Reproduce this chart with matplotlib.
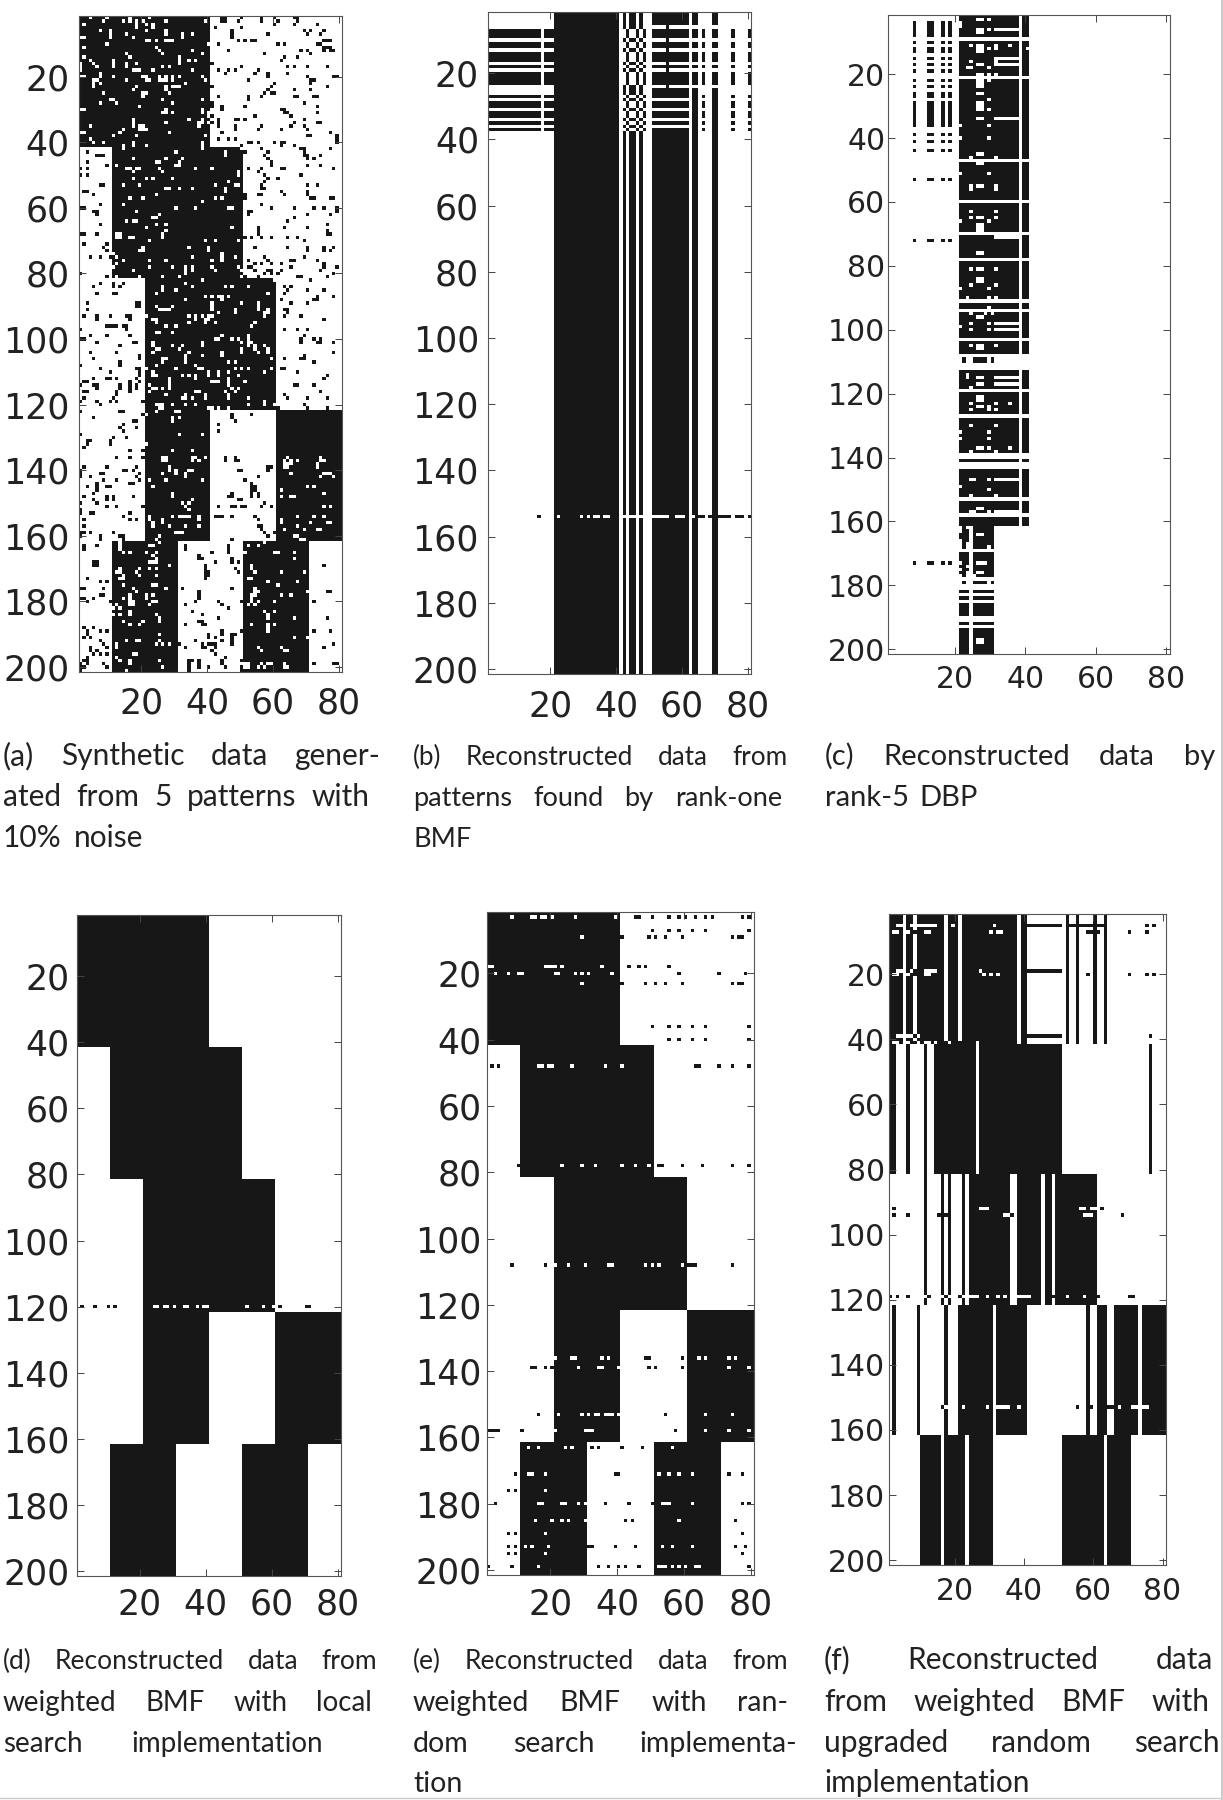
import numpy as np
import matplotlib
matplotlib.use('Agg')
import matplotlib.pyplot as plt
from matplotlib.colors import ListedColormap
from matplotlib.lines import Line2D

plt.rcParams['font.family'] = 'DejaVu Sans'

xtick_vals = [20, 40, 60, 80]
ytick_vals = [20, 40, 60, 80, 100, 120, 140, 160, 180, 200]

# the five patterns: first row, last row, first col, last col
pattern_blocks = [(1, 40, 1, 40), (41, 80, 11, 50), (81, 120, 21, 60),
                  (121, 160, 21, 40), (121, 160, 61, 80),
                  (161, 200, 11, 30), (161, 200, 51, 70)]

# panel a: cells that differ from the patterns, row: cols
a_flips = {
1: [4,9,16,22,44,45,50,56,60,66,67], 2: [8,14,16,18,20,27,39,44,45,49,56,61,67], 3: [2,18,21,23,60,66,73],
4: [18,23,42,50], 5: [7,10,21,27,47,69,71,75], 6: [10,15,27,32,35,47,58,70,74], 7: [1,2,10,17,32,47],
8: [21,22,24,27,28,29,49,51,53,54,75,76,77], 9: [9,40,43,61,63,73,74], 10: [2,24,75,76,77],
11: [25,35,46,68,70,75,77,78], 12: [15,26,38,57,71], 13: [2,16,31,63,67], 14: [4,11,31,34,36,62],
15: [1,5,11,15,18,31,41], 16: [1,6,11,15,26,28,50,64,66,70,76], 17: [1,17,18,19,23,35,43,46,48,55],
18: [7,45,54,58,64], 19: [1,2,7,11,20,21,25,27,29,31,38,58,70,78,79], 20: [5,6,15,21,22,25,26,27,29,39,52,71,72],
21: [5,7,33,60,71], 22: [5,18,27,29,30,31,41,59,76], 23: [17,27,58,66,71], 24: [8,20,21,28,57,59,60],
25: [20,43,52,56,66,67,72,73], 26: [10,11,26,38,52], 27: [7,12,29,41,69], 28: [19,41,44,51,73],
29: [1,2,27,38,44,62,63], 30: [26,27,29,38,40,63,64,73], 31: [40,41,54,65], 32: [17,34,38,43,48,49,51,69],
33: [17,27,37,38,40,41,43,66,73,74], 34: [4,17,19,20,37,43,48,56,65,69], 35: [14,19,20,21,48,55,62,70],
36: [1,2,13,28,44,77], 37: [11,18,39,70,71,79], 38: [4,43,46,48,79], 39: [5,8,17,38,52,53,55,60,62,63,79],
40: [14,17,21,38,50,62,66], 41: [14,38,50,56,68,69,77], 42: [3,30,45,51,58,69], 43: [6,7,8,45,57,69,70,74],
44: [17,27,32,58,70,72], 45: [3,24,25,31,59], 46: [9,12,30,31,59,70,74], 47: [1,3,15,16,18,19,25,36,41,52,56,62,63,78],
48: [17,26,49,55], 49: [1,3,49,57,68], 50: [17,21,23,29,58,61], 51: [46,57], 52: [7,8,14,19,42,48,49,56,70,73],
53: [27,28,31,35,45,56,57], 54: [2,3,45,62,70], 55: [5,24,51,55,56,63,70], 56: [16,20,42,44,51,71,72,77,78],
57: [38], 58: [7,14,56], 59: [1,2,30,36,46,47,59,66,72,75,79], 60: [5,6,18,52,53,79], 61: [6,25,52,70,77],
62: [23,24,66], 63: [15,17,18,64], 64: [7,24,27,76], 65: [21,47,55,63,70], 66: [27,55,76], 67: [1,2,6,12,13,26,55,76,77],
68: [12,13,16,17,26,51,53,56,59,64,67], 69: [22,39,42,49,69], 70: [2,9], 71: [8,20,34,40,54,64,70,75,78],
72: [9,19,20,40,70,75,77], 73: [11,44], 74: [4,7,10,12,35,44,48,57,69], 75: [14,22,27,41,44,52,58,65,66,73],
76: [12,54,56,59,62,75], 77: [11,22,29,33,35,41,49,52,53,65,75,79], 78: [17,33,35,42,50,54,58,59,62,74],
79: [1,33,57,59,61,78], 80: [9,12,19,26,31,50,51,55,67,68,76], 81: [38,60,71], 82: [7,11,14,33],
83: [5,11,13,26,35,45,47,52,63,65], 84: [26,30,64,70,75], 85: [6,11,12,24,58,63], 86: [39,41,43,44,46,73,78],
87: [33,44,62,72,73], 88: [3,18,19,41,50,55,65,70], 89: [18,19,24,29,41,55], 90: [3,25,26,27,28,41,48,55,58,63,64],
91: [43,48,57,58,64], 92: [2,6,10,15,16,21,34,36,38,40,41,57,63,68], 93: [6,16,23,24,36,39,40,75], 94: [24,34,39,42,54],
95: [9,10,11,12,14,15,27,30,53], 96: [1,15,63,67,70], 97: [24,25,29], 98: [4,9,16,44,52,69],
99: [1,2,42,43,47,49,52,68,72,74], 100: [6,17,18,23,38,50,52,53,68,73,74,78], 101: [13,23,29,32,38,52,54,57],
102: [24,25,31,50,54,58], 103: [4,12,23,34,44,50,55,58,78], 104: [19,33,38,44,69], 105: [5,19,26,27,33,59,63,68,69],
106: [13,26,33,46,48,72], 107: [1,13,24,36], 108: [7,18,19,21,30,37,38,48,50,52,59,62,63], 109: [10,19,23,40,43,46,57,67],
110: [19,23,24,32,34,36,40,43,49,76], 111: [5,9,10,12,18,28,36,46,75], 112: [2,3,16,19,28,41,42,43,46,51],
113: [1,5,6,13,16,18,22,28,46,66,67,72], 114: [6,13,16,18,23,24,26,28,47,49], 115: [2,3,12,16,22,36,37,45,48,74],
116: [12,27,33,39,46,63], 117: [2,11,32,33,35,39,46,52,64,70,76], 118: [1,6,10,12,20,57], 119: [7,24,25,26,29,33,36,52,57,60,69],
120: [25,26,40,41,43,46,61,70,76], 121: [1,13,14,24,30,31], 122: [20,21,47,53], 123: [5,29,31,47], 124: [17,18,29,48],
125: [14,43], 126: [13,18], 127: [14,43], 128: [1,31,38], 129: [11,15], 130: [3,4,10], 131: [3,10,21], 132: [2],
133: [16,20,29,35], 135: [12,16,20,26,27,35,36,39,45,48,64,74], 136: [26,27,35,37,45,48,49,63,65,67,74,75],
137: [63,64,65,73], 138: [2,9,18,28,58,59,63,64,73], 139: [1,14,15,17,28,30,34,35,49,50,58], 140: [1,7,8,19,26,30,33,65,75,76,77],
141: [1,4,18,33,55,74,78], 142: [8,12,19,22,27,38,51], 143: [6,16,17,53], 144: [3,6,9,10,23,53,54,70,72],
145: [6,53,54,62], 146: [5,29,47,53,55,75], 147: [2,9,11,17,29,46,47,53,55,62,65,66], 148: [5,9,11,35,49,50],
149: [1,6,32,34,57], 150: [9,12,20,33,43,47,48,50,51,56,59,75,77], 151: [1,34], 152: [1,4,5,16],
153: [14,22,29,31,32,33,34,37,42,43,44,47,54,67,72,75], 154: [2,16,18,22,26,37,55,62], 155: [23,26,62,71,76,77],
156: [2,23,28,33,37,55,56,67], 157: [56,63,69,73,74], 158: [1,2,4,11,30,31,32,57,60], 159: [1,7,13,14,25,58,66,67],
160: [7,14,24,47,68,69], 161: [13,25,57], 162: [2,6,13,22,23,33,46,52,55], 163: [2,13,33,46], 164: [14,16,21,24,41,46,51,60,61,66],
165: [23,37], 166: [24,37,38,47,66], 167: [5,6,22,23,24,42,47,49], 168: [5,6,28,39,53,75], 169: [13,19,22,24,39,48,53],
170: [12,13,18,39,40,49,54,62,69], 171: [14,19,24,39,40], 172: [3,13,14,39,52,53], 173: [7,9,58,67], 174: [14,23,24,61],
175: [1,2,8,17,27,32,47,54], 176: [18,37,54,55,70,76,77], 177: [7,8,16,21,23,37,53,54,62,65], 178: [1,2,5,14,16,21,37,53],
179: [3,10,16,17,23,24,36,43,50,53,55,60,72], 180: [12,16,17,22,33,44,52,54], 181: [11,13,46], 182: [16,35,57,60],
183: [11,13,16,24,38,58], 184: [25,43,58,66,76], 185: [14,20,25,37,38], 186: [16,19,33,38,39,53,58,60], 187: [2,5,58],
188: [3,7,9,44,50,58,72,77], 189: [3,25,40,44,47,48], 190: [2,4,40,42,47,66,70], 191: [7,15,18,19,25,36,44,47],
192: [8,12,24,26,28,31,38,40,41,42,47,78], 193: [4,9,12,33,38,39,42,55,62,75], 194: [4,6,41,56,63,64], 195: [5,7,9,17,18,42],
196: [3,12,45], 197: [2,3,13,16,25,34,35,37,44,50], 198: [1,3,8,16,34,37,44,51,52,56,58,59,63,72,78,79],
199: [1,2,9,26,34,37,40,45,50,51,52,55,57,63,64], 200: [1,15,34,50],
}

# panel b
b_cols = [(21, 40), (42, 42), (44, 45), (47, 47), (51, 61), (63, 64), (69, 70)]
b_marked_rows = [6,7,8,10,11,13,14,15,17,19,20,21,22,26,28,29,31,32,34,36]
b_marked_cols = [(1, 16), (18, 20), (43, 43), (46, 46), (48, 48), (66, 66), (75, 75), (80, 80)]
b_cleared_upper = [(51, 54), (56, 61), (63, 64), (69, 70)]
b_white_lines = [27, 30, 33, 35]
b_flips = {153: [16,22,29,31,33,34,36,37,42,44,45,47,51,52,53,54,55,58,59,60,63,65,66,68,71,72,73,74,76,77,78,80]}

# panel c
c_left_cols = [8, 12, 13, 16, 18]
c_left_rows = [3,4,5,6,7,9,11,12,14,16,18,21,23,25,26,28,29,30,31,32,33,34,35,38,40,43,52,71,172]
c_gap_rows = [8,20,46,59,69,77,90,93,102,107,110,111,118,126,138,139,141,142,152,157]
c_thin_rows = [5,14,16,33,70,97,99,114,116,146,156]
c_low_rows = [161,162,163,164,165,166,169,170,171,172,173,174,175,176,181,183,185,186,187,188,191,193,194,195,196,197,198,199,200]
c_dot_rows = [108, 109, 167, 178]
c_dot_cols = [22, 25, 26, 27, 28, 30]
c_holes = {
2: [26,27,29], 3: [21], 4: [21], 5: [26,27,29], 6: [26,27], 10: [24,26,27,31,35], 11: [26,27,29,31,40], 12: [26,27],
15: [24,31], 16: [26,27], 17: [23,24,29], 19: [26,27,29,31], 21: [26,27,29], 22: [26,27], 23: [26,27], 25: [26,27], 27: [29],
28: [26,27], 29: [26,27], 30: [26,27,29], 33: [26,27], 35: [21,29], 39: [21,29], 44: [26,27], 45: [24,31], 47: [26,27],
50: [21,29], 54: [24,26,27,31], 55: [24,31], 62: [24,31], 64: [24,26,27,31], 65: [21,29], 66: [26,27], 67: [26,27], 68: [26,27],
75: [26,27], 80: [24,26,27,31], 83: [26,27], 84: [26,27], 85: [24,31], 86: [21,29], 89: [23,29,31], 92: [29],
94: [24,28,30], 95: [26,27], 97: [24,29,31], 98: [21], 99: [24,29], 104: [24,26,27,31], 105: [26,27],
113: [23], 114: [23,26,27], 116: [26,27], 117: [24], 120: [26,27], 121: [26,27], 122: [24,31,35], 123: [26,27,29], 124: [24,29,31],
129: [24,31], 131: [21,29], 133: [21,29], 136: [26,27,29,35], 137: [24,31], 146: [24,25,29], 148: [21], 149: [29], 151: [24,31],
155: [26,27], 156: [24,25,29], 161: [21,23], 162: [21], 163: [26,27], 165: [21], 166: [21,23],
172: [21,26,27,28], 173: [23], 174: [21], 175: [23,26,27], 176: [21,23,25], 196: [26,27], 197: [26,27],
}

# panel d
d_flips = {119: [2,6,10,12,24,25,27,28,30,33,34,37,39,40,52,57,60,62,70,71]}

# panel e
e_flips = {
2: [8,14,15,17,18,20,27,39,45,46,50,55,58,60,63,66,68,77,79], 6: [50,55,58,62,66,79],
8: [29,41,49,51,54,59,74,76,77], 17: [1,2,18,19,20,21,23,35,43,46,48,55], 19: [3,7,10,11,21,22,27,29,31,38,58,70,78],
22: [29,41,48,51,54,59,74,76,77], 35: [50,55,58,62,66,79], 39: [55,58,62,66,79], 47: [2,4,16,17,19,20,26,36,41,63,64,70,74,79],
77: [10,23,29,33,41,45,49,52,53,59,65,74,79], 107: [8,18,21,25,30,37,38,48,50,52,59,61,62,63,74],
135: [21,26,27,35,37,48,49,59,64,66,73,75], 138: [14,15,18,20,28,34,35,40,49,51,59,73,79],
152: [16,22,29,31,33,34,36,37,38,40,54,66,74], 157: [1,2,3,4,11,21,30,31,32,57,66,73,79], 162: [13,16,24,26,32,34,41,47,56],
170: [9,13,14,18,39,40,52,55,58,62,73,77], 175: [7,9,18], 179: [3,16,17,23,24,28,30,36,43,50,53,54,55,62,77,79],
184: [15,20,23,25,30,42,44,58,75], 188: [7,9,18,77], 192: [7,9,12,14,19,31,32,39,45,53,56,62,75,78], 194: [7,9,18,77],
198: [1,8,16,34,37,40,42,46,52,53,54,56,58,60,63,64,79],
}

# panel f: black col spans for each group of rows
f_blocks = [
    (1, 40, [(1,4),(6,7),(9,16),(18,20),(22,37),(39,40),(52,52),(55,55),(60,60),(63,63)]),
    (41, 80, [(1,2),(6,6),(11,11),(14,25),(27,50),(76,76)]),
    (81, 120, [(11,11),(16,16),(18,18),(22,22),(24,35),(38,44),(46,47),(49,60)]),
    (121, 160, [(2,2),(9,9),(17,17),(21,30),(32,40),(58,58),(61,63),(66,72),(74,80)]),
    (161, 200, [(10,15),(17,22),(24,30),(51,62),(64,70)]),
]
f_flips = {
4: [3,4,7,9,10,11,12,13,14,19,31,41,42,43,44,45,46,47,48,49,50,53,54,56,57,58,59,61,62,75,77],
6: [2,3,6,8,11,12,30,32,33,58,59,61,70,75],
18: [3,4,7,8,11,12,13,14,27,41,42,43,44,45,46,47,48,49,50],
19: [2,3,6,8,11,12,28,30,32,58,70,75,77],
38: [3,4,6,7,8,9,41,42,43,44,45,46,47,48,49,50,76],
40: [2,3,6,8,9,11,12,14,17,18,21,26],
91: [2,27,28,29,56,57,59,60,62],
93: [2,6,15,17,34,35,36,57,58,59,68],
118: [1,3,6,11,12,16,17,18,21,22,24,25,26,29,32,34,38,39,40,41,48,52,57,61,70,71],
152: [16,17,22,29,32,33,34,35,38,55,59,64,65,67,71,72,74,75],
}

# captions: panel lines as (text, x start, x end, baseline) in reference pixels
captions = [
    ('(a) Synthetic data gener-', 3, 380, 765, 21.5), ('ated from 5 patterns with', 3, 370, 806, 21.5), ('10% noise', 3, 143, 847, 21.5),
    ('(b) Reconstructed data from', 413, 788, 765, 18.8), ('patterns found by rank-one', 413, 782, 806, 19.5), ('BMF', 413, 482, 847, 19.5),
    ('(c) Reconstructed data by', 825, 1215, 765, 21), ('rank-5 DBP', 825, 978, 806, 21),
    ('(d) Reconstructed data from', 3, 377, 1669, 19), ('weighted BMF with local', 3, 372, 1711, 20), ('search implementation', 3, 323, 1752, 20),
    ('(e) Reconstructed data from', 413, 788, 1669, 19), ('weighted BMF with ran-', 413, 788, 1711, 20.5), ('dom search implementa-', 413, 797, 1752, 20.5), ('tion', 413, 467, 1792, 20.5),
    ('(f) Reconstructed data', 824, 1213, 1669, 21.5), ('from weighted BMF with', 824, 1210, 1711, 21.5), ('upgraded random search', 824, 1220, 1752, 21.5), ('implementation', 824, 1045, 1792, 21.5),
]

W = 1223
H = 1800
cmap = ListedColormap(['white', '#171717'])


def fill(m, r0, r1, spans):
    for c0, c1 in spans:
        m[r0-1:r1, c0-1:c1] = 1


def flip(m, flips):
    for r, cols in flips.items():
        for c in set(cols):
            m[r-1, c-1] = 1 - m[r-1, c-1]


def patterns():
    m = np.zeros((200, 80))
    for r0, r1, c0, c1 in pattern_blocks:
        m[r0-1:r1, c0-1:c1] = 1
    return m


mat_a = patterns()
flip(mat_a, a_flips)

mat_b = np.zeros((200, 80))
fill(mat_b, 1, 200, b_cols)
for r in range(5, 38):
    if r in b_marked_rows:
        mat_b[r-1, [41, 43, 44, 46]] = 0
        fill(mat_b, r, r, b_marked_cols)
    elif r < 24:
        for c0, c1 in b_cleared_upper:
            mat_b[r-1, c0-1:c1] = 0
for r in b_white_lines:
    mat_b[r-1, 50:61] = 0
flip(mat_b, b_flips)

mat_c = np.zeros((200, 80))
fill(mat_c, 1, 160, [(21, 37), (39, 40)])
for r in c_gap_rows:
    mat_c[r-1, :] = 0
for r in c_thin_rows:
    mat_c[r-1, 30:37] = 0
for r in c_dot_rows:
    mat_c[r-1, :] = 0
    for c in c_dot_cols:
        mat_c[r-1, c-1] = 1
for r in c_low_rows:
    fill(mat_c, r, r, [(21, 23), (25, 30)])
for r in c_left_rows:
    for c in c_left_cols:
        mat_c[r-1, c-1] = 1
for r, cols in c_holes.items():
    for c in cols:
        mat_c[r-1, c-1] = 0

mat_d = patterns()
flip(mat_d, d_flips)

mat_e = patterns()
flip(mat_e, e_flips)

mat_f = np.zeros((200, 80))
for r0, r1, spans in f_blocks:
    fill(mat_f, r0, r1, spans)
flip(mat_f, f_flips)

# panel, pixel box (left, right, top, bottom), tick font, x pad, y pad
panels = [
    (mat_a, (79, 342, 16, 672), 25, 10.5, 7),
    (mat_b, (488, 751, 12, 674), 25, 11, 6.5),
    (mat_c, (888, 1170, 15, 654), 21.5, 8, 2),
    (mat_d, (77, 341, 915, 1576), 25, 8, 5.5),
    (mat_e, (487, 754, 912, 1575), 25, 9, 4),
    (mat_f, (889, 1166, 914, 1565), 21.5, 8.5, 3),
]

fig = plt.figure(figsize=(W/100, H/100), dpi=100)

for m, box, fs, xpad, ypad in panels:
    l, r, t, b = box
    ax = fig.add_axes([l/W, 1-b/H, (r-l)/W, (b-t)/H])
    ax.imshow(m, cmap=cmap, vmin=0, vmax=1, aspect='auto', interpolation='nearest',
              extent=(1, 81, 201.5, 1.5))
    ax.set_xticks(xtick_vals)
    ax.set_yticks(ytick_vals)
    ax.tick_params(axis='x', direction='in', length=5, width=0.7, color='#444444', top=True,
                   labelsize=fs, pad=xpad, labelcolor='#222222')
    ax.tick_params(axis='y', direction='in', length=5, width=0.7, color='#444444', right=True,
                   labelsize=fs, pad=ypad, labelcolor='#222222')
    for s in ax.spines.values():
        s.set_linewidth(0.8)
        s.set_color('#555555')

# justified caption lines
renderer = fig.canvas.get_renderer()
for text, x0, x1, y, fs in captions:
    words = text.split(' ')
    items = [fig.text(x0/W, 1-y/H, w, fontsize=fs, family='Lato', color='#222222', va='baseline')
             for w in words]
    widths = [it.get_window_extent(renderer).width for it in items]
    gap = 0
    if len(words) > 1:
        gap = (x1-x0-sum(widths))/(len(words)-1)
    x = x0
    for it, wd in zip(items, widths):
        it.set_x(x/W)
        x += wd+gap

# page edge lines of the scan
fig.add_artist(Line2D([1222/W, 1222/W], [0, 1], color='#cccccc', lw=1.5))
fig.add_artist(Line2D([0, 1], [2/H, 2/H], color='#cccccc', lw=1))

fig.savefig('out.png', dpi=100)
